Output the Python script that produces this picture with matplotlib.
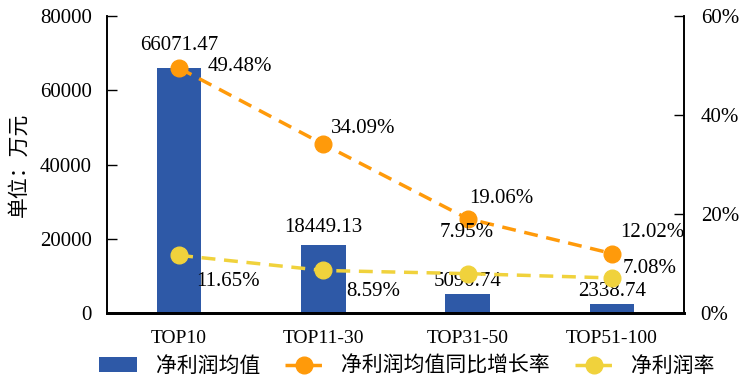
import matplotlib
matplotlib.use('Agg')
import matplotlib.pyplot as plt
from matplotlib.ticker import FuncFormatter

plt.rcParams['font.family'] = ['Liberation Serif', 'Noto Sans CJK SC', 'DejaVu Sans']

categories = ['TOP10', 'TOP11-30', 'TOP31-50', 'TOP51-100']
profit_avg = [66071.47, 18449.13, 5090.74, 2338.74]
profit_growth = [49.48, 34.09, 19.06, 12.02]
profit_margin = [11.65, 8.59, 7.95, 7.08]

bar_color = '#2E59A7'
orange = '#FF9A0A'
yellow = '#F0D23C'

fig = plt.figure(figsize=(7.45, 3.88), dpi=100)
ax = fig.add_axes([107 / 745, 1 - 313 / 388, 577 / 745, 297 / 388])
ax2 = ax.twinx()

x = list(range(len(categories)))
bars = ax.bar(x, profit_avg, width=0.31, color=bar_color, label='净利润均值', zorder=2)
ax.set_xlim(-0.5, 3.5)
ax.set_ylim(0, 80000)
ax.set_yticks([0, 20000, 40000, 60000, 80000])
ax.set_xticks(x)
ax.set_xticklabels(categories, fontsize=14)
ax.tick_params(axis='y', labelsize=15, direction='in', length=7, width=1, pad=11)
ax.tick_params(axis='x', length=0, pad=12)
ax.set_ylabel('单位：万元', fontsize=15, family=['Noto Sans CJK SC'])
ax.yaxis.set_label_coords(-0.135, 0.5)

l1, = ax2.plot(x, profit_growth, '--', color=orange, lw=2.5, marker='o', ms=12,
               dashes=(4, 2.5), label='净利润均值同比增长率', zorder=3)
l2, = ax2.plot(x, profit_margin, '--', color=yellow, lw=2.5, marker='o', ms=12,
               dashes=(4, 2.5), label='净利润率', zorder=3)
ax2.set_ylim(0, 60)
ax2.set_yticks([0, 20, 40, 60])
ax2.yaxis.set_major_formatter(FuncFormatter(lambda v, p: '%d%%' % v))
ax2.tick_params(axis='y', labelsize=15, direction='in', length=7, width=1, pad=12)

for a in (ax, ax2):
    a.spines['top'].set_visible(False)
    a.spines['left'].set_linewidth(1.2)
    a.spines['right'].set_linewidth(1.2)
    a.spines['bottom'].set_linewidth(2)

# bar value labels
bar_off = [22, 17, 13, 13]
for i, v in enumerate(profit_avg):
    ax.annotate('%.2f' % v, (i, v), xytext=(0, bar_off[i]), textcoords='offset pixels',
                ha='center', va='center', fontsize=15, zorder=5)

growth_off = [(29, 2), (8, 16), (2, 20), (8, 21)]
for i, v in enumerate(profit_growth):
    ax2.annotate('%.2f%%' % v, (i, v), xytext=growth_off[i], textcoords='offset pixels',
                 ha='left', va='center', fontsize=15, zorder=5)

margin_off = [(17, -26), (23, -21), (-28, 41), (11, 9)]
for i, v in enumerate(profit_margin):
    ax2.annotate('%.2f%%' % v, (i, v), xytext=margin_off[i], textcoords='offset pixels',
                 ha='left', va='center', fontsize=15, zorder=5)

fig.legend([bars, l1, l2], ['净利润均值', '净利润均值同比增长率', '净利润率'],
           loc='center', bbox_to_anchor=(407 / 745, 1 - 366 / 388), ncol=3,
           frameon=False, prop={'family': 'Noto Sans CJK SC', 'size': 15},
           handlelength=1.8, columnspacing=1.2, handletextpad=0.9, borderpad=0)

fig.savefig('out.png', dpi=100)
